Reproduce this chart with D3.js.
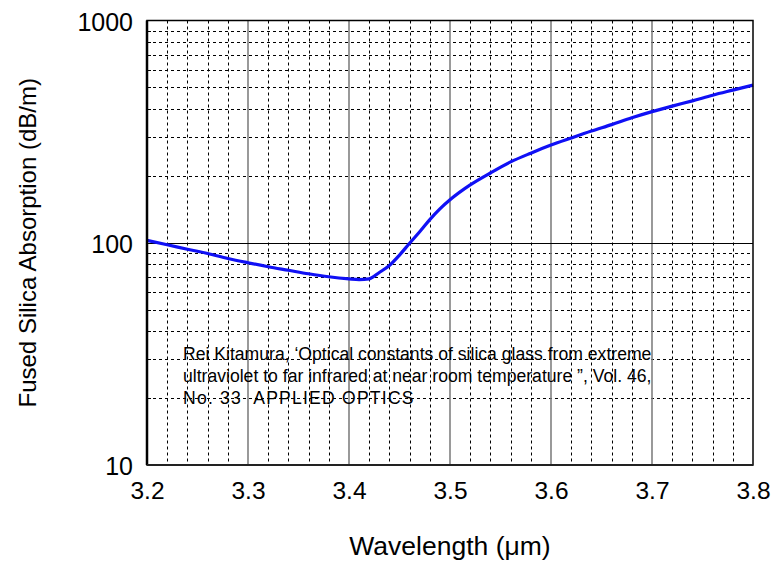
<!DOCTYPE html>
<html>
<head>
<meta charset="utf-8">
<script src="https://cdn.jsdelivr.net/npm/d3@7/dist/d3.min.js"></script>
<style>
  html, body { margin: 0; padding: 0; background: #fff; }
  svg { display: block; }
  text { font-family: "Liberation Sans", Arial, sans-serif; fill: #000; }
</style>
</head>
<body>
<svg id="chart" width="775" height="561"></svg>
<script>
// Absorption of fused silica in the 3.2–3.8 µm band
const wavelength = [3.20, 3.22, 3.24, 3.26, 3.28, 3.30, 3.32, 3.34, 3.36, 3.38,
                    3.40, 3.41, 3.42, 3.43, 3.44, 3.45, 3.46, 3.47, 3.48, 3.49,
                    3.50, 3.52, 3.54, 3.56, 3.58, 3.60, 3.62, 3.64, 3.66, 3.68,
                    3.70, 3.72, 3.74, 3.76, 3.78, 3.80];
const absorption = [102.5, 98, 93.5, 89.5, 85, 81.3, 78, 75.2, 72.5, 70.3,
                    68.8, 68.3, 68.8, 73.5, 79, 88, 99.5, 112, 127, 142,
                    156, 182, 206, 231, 253, 275, 296, 318, 340, 365,
                    389, 412, 435, 461, 486, 512];

const xTicks = [3.2, 3.3, 3.4, 3.5, 3.6, 3.7, 3.8];
const yTicks = [10, 100, 1000];
const xLabel = "Wavelength (\u03bcm)";
const yLabel = "Fused Silica Absorption (dB/m)";
const noteLines = [
  "Rei Kitamura, \u2018Optical constants of silica glass from extreme",
  "ultraviolet to far infrared at near room temperature \u201d, Vol. 46,",
  "No. 33  APPLIED OPTICS"
];

const svg = d3.select("#chart");
const m = { left: 147, right: 753, top: 20.5, bottom: 465 };

const x = d3.scaleLinear().domain([3.2, 3.8]).range([m.left, m.right]);
const y = d3.scaleLog().domain([10, 1000]).range([m.bottom, m.top]);
const px = v => Math.round(v) + 0.5;

const g = svg.append("g");

// Minor grid: vertical every 0.02 µm
const xMinor = d3.range(3.2, 3.8001, 0.02).map(v => +v.toFixed(2))
  .filter(v => !xTicks.some(t => Math.abs(t - v) < 1e-6));
g.selectAll(".xminor").data(xMinor).enter().append("line")
  .attr("x1", d => px(x(d))).attr("x2", d => px(x(d)))
  .attr("y1", m.top).attr("y2", m.bottom)
  .attr("stroke", "#000").attr("stroke-width", 1)
  .attr("stroke-dasharray", "3,3");

// Minor grid: horizontal at 2..9 of each decade
const yMinor = [];
[10, 100].forEach(dec => { for (let k = 2; k <= 9; k++) yMinor.push(dec * k); });
g.selectAll(".yminor").data(yMinor).enter().append("line")
  .attr("x1", m.left).attr("x2", m.right)
  .attr("y1", d => px(y(d))).attr("y2", d => px(y(d)))
  .attr("stroke", "#000").attr("stroke-width", 1)
  .attr("stroke-dasharray", "3,3");

// Major grid
g.selectAll(".xmajor").data(xTicks.slice(1, -1)).enter().append("line")
  .attr("x1", d => x(d)).attr("x2", d => x(d))
  .attr("y1", m.top).attr("y2", m.bottom)
  .attr("stroke", "#808080").attr("stroke-width", 1.6);
g.selectAll(".ymajor").data(yTicks.slice(1, -1)).enter().append("line")
  .attr("x1", m.left).attr("x2", m.right)
  .attr("y1", d => px(y(d))).attr("y2", d => px(y(d)))
  .attr("stroke", "#000").attr("stroke-width", 1);

// Inward minor ticks on the left axis
g.selectAll(".ltick").data(yMinor).enter().append("line")
  .attr("x1", m.left).attr("x2", m.left + 4)
  .attr("y1", d => px(y(d))).attr("y2", d => px(y(d)))
  .attr("stroke", "#000").attr("stroke-width", 1);

// Citation note
const note = g.append("text")
  .attr("x", 183).attr("y", 359.5)
  .style("font-size", "17.6px")
  .style("white-space", "pre")
  .attr("xml:space", "preserve");
noteLines.forEach((t, i) => {
  note.append("tspan").attr("x", 183).attr("dy", i === 0 ? 0 : 22.3)
    .style("letter-spacing", i === 2 ? "1.2px" : null)
    .text(t);
});

// Data curve
const line = d3.line()
  .x((d, i) => x(wavelength[i]))
  .y((d, i) => y(absorption[i]))
  .curve(d3.curveMonotoneX);
g.append("path")
  .datum(absorption)
  .attr("d", line)
  .attr("fill", "none")
  .attr("stroke", "#1010f5")
  .attr("stroke-width", 3.2)
  .attr("stroke-linejoin", "round");

// Frame
g.append("rect")
  .attr("x", m.left).attr("y", m.top)
  .attr("width", m.right - m.left).attr("height", m.bottom - m.top)
  .attr("fill", "none").attr("stroke", "#000").attr("stroke-width", 1.5);
g.append("line")
  .attr("x1", m.left).attr("x2", m.left).attr("y1", m.top).attr("y2", m.bottom)
  .attr("stroke", "#000").attr("stroke-width", 2.5);
g.append("line")
  .attr("x1", m.left).attr("x2", m.right).attr("y1", m.bottom).attr("y2", m.bottom)
  .attr("stroke", "#222").attr("stroke-width", 2);

// Axes (labels only; lines are drawn by the frame)
const xAxis = d3.axisBottom(x).tickValues(xTicks).tickSize(0).tickPadding(0)
  .tickFormat(d3.format(".1f"));
const gx = g.append("g").attr("transform", `translate(0,${m.bottom})`).call(xAxis);
gx.select(".domain").remove();
gx.selectAll("text").attr("dy", null).attr("y", 34)
  .style("font-size", "24.5px").style("font-family", "'Liberation Sans', Arial, sans-serif")
  .attr("fill", "#000");

const yAxis = d3.axisLeft(y).tickValues(yTicks).tickSize(0).tickPadding(0)
  .tickFormat(d3.format("d"));
const gy = g.append("g").attr("transform", `translate(${m.left},0)`).call(yAxis);
gy.select(".domain").remove();
gy.selectAll("text").attr("dy", null).attr("x", -14).attr("y", 9.5)
  .style("font-size", "25px").style("font-family", "'Liberation Sans', Arial, sans-serif")
  .attr("fill", "#000");

// Axis titles
g.append("text")
  .attr("x", (m.left + m.right) / 2).attr("y", 555)
  .attr("text-anchor", "middle")
  .style("font-size", "26.5px")
  .text(xLabel);
g.append("text")
  .attr("transform", `translate(36,${(m.top + m.bottom) / 2}) rotate(-90)`)
  .attr("text-anchor", "middle")
  .style("font-size", "24px")
  .text(yLabel);
</script>
</body>
</html>
